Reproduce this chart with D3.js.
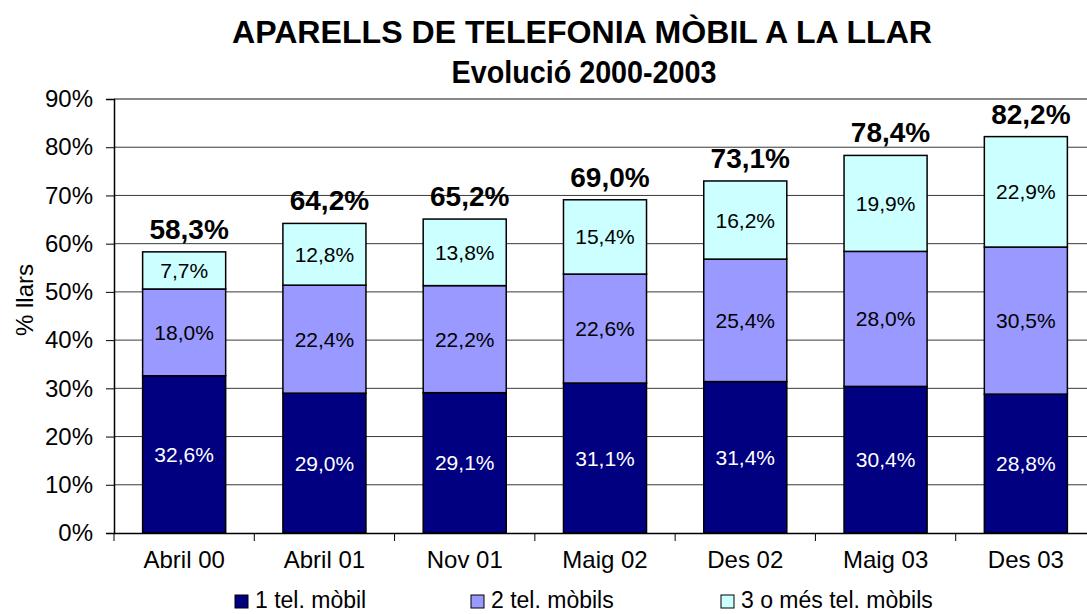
<!DOCTYPE html>
<html>
<head>
<meta charset="utf-8">
<script src="https://cdn.jsdelivr.net/npm/d3@7"></script>
<style>
  body { margin: 0; background: #fff; }
  text { font-family: Arial, "Liberation Sans", sans-serif; }
</style>
</head>
<body>
<script>
var categories = ["Abril 00", "Abril 01", "Nov 01", "Maig 02", "Des 02", "Maig 03", "Des 03"];
var unMobil = [32.6, 29.0, 29.1, 31.1, 31.4, 30.4, 28.8];
var dosMobils = [18.0, 22.4, 22.2, 22.6, 25.4, 28.0, 30.5];
var tresMobils = [7.7, 12.8, 13.8, 15.4, 16.2, 19.9, 22.9];
var totals = [58.3, 64.2, 65.2, 69.0, 73.1, 78.4, 82.2];
var seriesNames = ["1 tel. mòbil", "2 tel. mòbils", "3 o més tel. mòbils"];
var yTicks = [0, 10, 20, 30, 40, 50, 60, 70, 80, 90];

var colors = ["#000080", "#9999ff", "#ccffff"];
var labelColors = ["#fff", "#000", "#000"];

var w = 1087;
var h = 614;
var svg = d3.select("body")
	.append("svg")
	.attr("width", w)
	.attr("height", h);

var fmt = function(v) { return v.toFixed(1).replace(".", ",") + "%"; };

// scales
var x = d3.scaleBand()
	.domain(categories)
	.range([114, 1096])
	.paddingInner(0.408)
	.paddingOuter(0.204);
var y = d3.scaleLinear().domain([0, 90]).range([533, 99]);
var step = x.step();

// title
svg.append("text")
	.attr("x", 582).attr("y", 43)
	.attr("text-anchor", "middle")
	.attr("font-size", 32).attr("font-weight", "bold")
	.attr("textLength", 700).attr("lengthAdjust", "spacingAndGlyphs")
	.text("APARELLS DE TELEFONIA MÒBIL A LA LLAR");
svg.append("text")
	.attr("x", 584).attr("y", 83)
	.attr("text-anchor", "middle")
	.attr("font-size", 32).attr("font-weight", "bold")
	.attr("textLength", 265).attr("lengthAdjust", "spacingAndGlyphs")
	.text("Evolució 2000-2003");

// gridlines
svg.selectAll("line.grid")
	.data(yTicks.slice(1, -1))
	.enter()
	.append("line")
	.attr("class", "grid")
	.attr("x1", 114).attr("x2", w)
	.attr("y1", function(d) { return y(d); })
	.attr("y2", function(d) { return y(d); })
	.attr("stroke", "#3a3a3a")
	.attr("stroke-width", 1);
svg.append("line")
	.attr("x1", 114).attr("x2", w)
	.attr("y1", y(90)).attr("y2", y(90))
	.attr("stroke", "#888").attr("stroke-width", 2);

// y axis
var yAxis = svg.append("g")
	.attr("transform", "translate(114,0)")
	.call(d3.axisLeft(y).tickValues(yTicks).tickSize(8).tickPadding(13)
		.tickFormat(function(d) { return d + "%"; }));
yAxis.selectAll("text").attr("font-size", 24).attr("fill", "#000")
	.attr("font-family", "Arial, 'Liberation Sans', sans-serif");
yAxis.selectAll("line").attr("stroke", "#000");
yAxis.select(".domain").attr("stroke", "#000").attr("stroke-width", 1.5);

svg.append("text")
	.attr("transform", "translate(33,300) rotate(-90)")
	.attr("text-anchor", "middle")
	.attr("font-size", 24)
	.text("% llars");

// stacked bars
var rows = categories.map(function(c, i) {
	return { cat: c, a: unMobil[i], b: dosMobils[i], c: tresMobils[i], total: totals[i] };
});
var stack = d3.stack().keys(["a", "b", "c"]);
var layers = stack(rows);

var groups = svg.selectAll("g.layer")
	.data(layers)
	.enter()
	.append("g")
	.attr("class", "layer")
	.attr("fill", function(d, i) { return colors[i]; });

groups.selectAll("rect")
	.data(function(d) { return d; })
	.enter()
	.append("rect")
	.attr("x", function(d) { return x(d.data.cat); })
	.attr("y", function(d) { return y(d[1]); })
	.attr("width", x.bandwidth())
	.attr("height", function(d) { return y(d[0]) - y(d[1]); })
	.attr("stroke", "#000")
	.attr("stroke-width", 1.5);

groups.selectAll("text")
	.data(function(d, i) { return d.map(function(p) { return { p: p, i: i }; }); })
	.enter()
	.append("text")
	.attr("x", function(d) { return x(d.p.data.cat) + x.bandwidth() / 2; })
	.attr("y", function(d) { return (y(d.p[0]) + y(d.p[1])) / 2; })
	.attr("dy", "0.36em")
	.attr("text-anchor", "middle")
	.attr("font-size", 21)
	.attr("fill", function(d) { return labelColors[d.i]; })
	.text(function(d) { return fmt(d.p[1] - d.p[0]); });

// totals above bars
svg.selectAll("text.total")
	.data(rows)
	.enter()
	.append("text")
	.attr("class", "total")
	.attr("x", function(d) { return x(d.cat) + x.bandwidth() / 2 + 5; })
	.attr("y", function(d) { return y(d.a + d.b + d.c) - 13; })
	.attr("text-anchor", "middle")
	.attr("font-size", 28)
	.attr("font-weight", "bold")
	.text(function(d) { return fmt(d.total); });

// x axis
var xAxis = svg.append("g")
	.attr("transform", "translate(0,533)")
	.call(d3.axisBottom(x).tickSize(0).tickPadding(18));
xAxis.select(".domain").attr("stroke", "#000").attr("stroke-width", 1.5);
xAxis.selectAll("text").attr("font-size", 24).attr("fill", "#000")
	.attr("font-family", "Arial, 'Liberation Sans', sans-serif");
svg.selectAll("line.xtick")
	.data(d3.range(categories.length + 1))
	.enter()
	.append("line")
	.attr("class", "xtick")
	.attr("x1", function(i) { return 114 + i * step; })
	.attr("x2", function(i) { return 114 + i * step; })
	.attr("y1", 533).attr("y2", 541)
	.attr("stroke", "#000");

// legend
var legendX = [235, 471, 721];
var legend = svg.selectAll("g.legend")
	.data(seriesNames)
	.enter()
	.append("g")
	.attr("class", "legend")
	.attr("transform", function(d, i) { return "translate(" + legendX[i] + ",0)"; });
legend.append("rect")
	.attr("x", 0).attr("y", 595)
	.attr("width", 13).attr("height", 13)
	.attr("fill", function(d, i) { return colors[i]; })
	.attr("stroke", "#000").attr("stroke-width", 1);
legend.append("text")
	.attr("x", 20).attr("y", 608)
	.attr("font-size", 23)
	.text(function(d) { return d; });
</script>
</body>
</html>
